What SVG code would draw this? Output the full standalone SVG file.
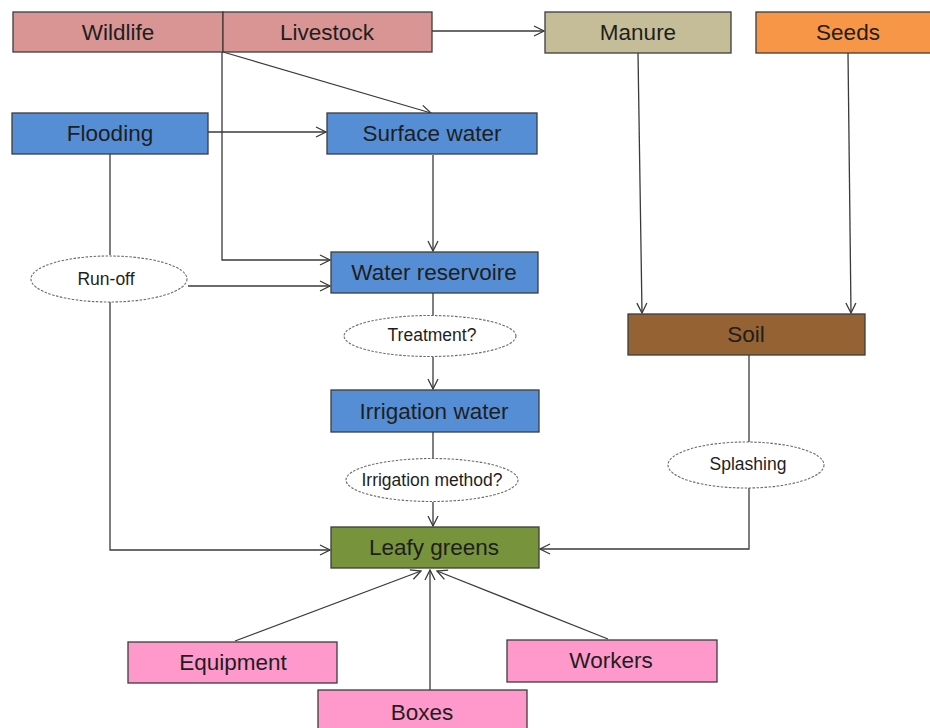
<svg xmlns="http://www.w3.org/2000/svg" width="930" height="728" viewBox="0 0 930 728">
<defs>
<marker id="arr" viewBox="0 0 12 12" refX="11" refY="6" markerWidth="12" markerHeight="12" markerUnits="userSpaceOnUse" orient="auto">
<path d="M1,1 L11,6 L1,11" fill="none" stroke="#3a3a3a" stroke-width="1.3"/>
</marker>
<style>
.box{stroke:#3c3c3c;stroke-width:1.3}
.t{font-family:"Liberation Sans",Arial,sans-serif;font-size:22.5px;fill:#1e1e1e;text-anchor:middle}
.et{font-family:"Liberation Sans",Arial,sans-serif;font-size:17.5px;fill:#1e1e1e;text-anchor:middle}
.ell{fill:#ffffff;stroke:#6a6a6a;stroke-width:1.1;stroke-dasharray:2.5 1.5}
.c{fill:none;stroke:#3a3a3a;stroke-width:1.3}
.a{marker-end:url(#arr)}
</style>
</defs>
<rect width="930" height="728" fill="#ffffff"/>
<g id="connectors">
<line class="c a" x1="432" y1="31" x2="544" y2="31"/>
<line class="c a" x1="223" y1="52" x2="431" y2="113"/>
<polyline class="c a" points="222,52 222,260 330,260"/>
<line class="c a" x1="208" y1="132" x2="326" y2="132"/>
<line class="c a" x1="433" y1="155" x2="433" y2="251"/>
<line class="c" x1="110" y1="154" x2="110" y2="255"/>
<polyline class="c a" points="110,302 110,550 330,550"/>
<line class="c a" x1="188" y1="286" x2="330" y2="286"/>
<line class="c" x1="433" y1="293" x2="433" y2="316"/>
<line class="c a" x1="433" y1="357" x2="433" y2="389"/>
<line class="c" x1="433" y1="432" x2="433" y2="459"/>
<line class="c a" x1="433" y1="502" x2="433" y2="526"/>
<line class="c a" x1="638" y1="53" x2="642" y2="313"/>
<line class="c a" x1="848" y1="53" x2="851" y2="313"/>
<line class="c" x1="749" y1="355" x2="749" y2="442"/>
<polyline class="c a" points="749,488 749,549 540,549"/>
<line class="c a" x1="235" y1="641" x2="421" y2="571"/>
<line class="c a" x1="430" y1="690" x2="430" y2="570"/>
<line class="c a" x1="608" y1="639" x2="437" y2="571"/>
</g>
<g id="wildlife"><rect class="box" x="13" y="12" width="210" height="40" fill="#D99594"/><text class="t" x="118" y="40">Wildlife</text></g>
<g id="livestock"><rect class="box" x="223" y="12" width="209" height="40" fill="#D99594"/><text class="t" x="327" y="40">Livestock</text></g>
<g id="manure"><rect class="box" x="545" y="12" width="186" height="41" fill="#C4BD97"/><text class="t" x="638" y="40">Manure</text></g>
<g id="seeds"><rect class="box" x="756" y="12" width="182" height="41" fill="#F79646"/><text class="t" x="848" y="40">Seeds</text></g>
<g id="flooding"><rect class="box" x="12" y="113" width="196" height="41" fill="#558ED5"/><text class="t" x="110" y="141">Flooding</text></g>
<g id="surface-water"><rect class="box" x="327" y="113" width="210" height="41" fill="#558ED5"/><text class="t" x="432" y="141">Surface water</text></g>
<g id="water-reservoire"><rect class="box" x="331" y="252" width="207" height="41" fill="#558ED5"/><text class="t" x="434" y="280">Water reservoire</text></g>
<g id="run-off"><ellipse class="ell" cx="109" cy="279" rx="78" ry="23"/><text class="et" x="106" y="285">Run-off</text></g>
<g id="treatment"><ellipse class="ell" cx="430" cy="336" rx="86" ry="20.5"/><text class="et" x="432" y="341">Treatment?</text></g>
<g id="irrigation-water"><rect class="box" x="331" y="390" width="208" height="42" fill="#558ED5"/><text class="t" x="434" y="419">Irrigation water</text></g>
<g id="irrigation-method"><ellipse class="ell" cx="432" cy="480" rx="86" ry="21.5"/><text class="et" x="432" y="486">Irrigation method?</text></g>
<g id="soil"><rect class="box" x="628" y="314" width="237" height="41" fill="#956234"/><text class="t" x="746" y="342">Soil</text></g>
<g id="splashing"><ellipse class="ell" cx="746" cy="465" rx="78" ry="23"/><text class="et" x="748" y="470">Splashing</text></g>
<g id="leafy-greens"><rect class="box" x="331" y="527" width="208" height="41" fill="#77933C"/><text class="t" x="434" y="555">Leafy greens</text></g>
<g id="equipment"><rect class="box" x="128" y="642" width="209" height="41" fill="#FF99CC"/><text class="t" x="233" y="670">Equipment</text></g>
<g id="workers"><rect class="box" x="507" y="640" width="210" height="42" fill="#FF99CC"/><text class="t" x="611" y="668">Workers</text></g>
<g id="boxes"><rect class="box" x="318" y="690" width="209" height="45" fill="#FF99CC"/><text class="t" x="422" y="720">Boxes</text></g>
</svg>
